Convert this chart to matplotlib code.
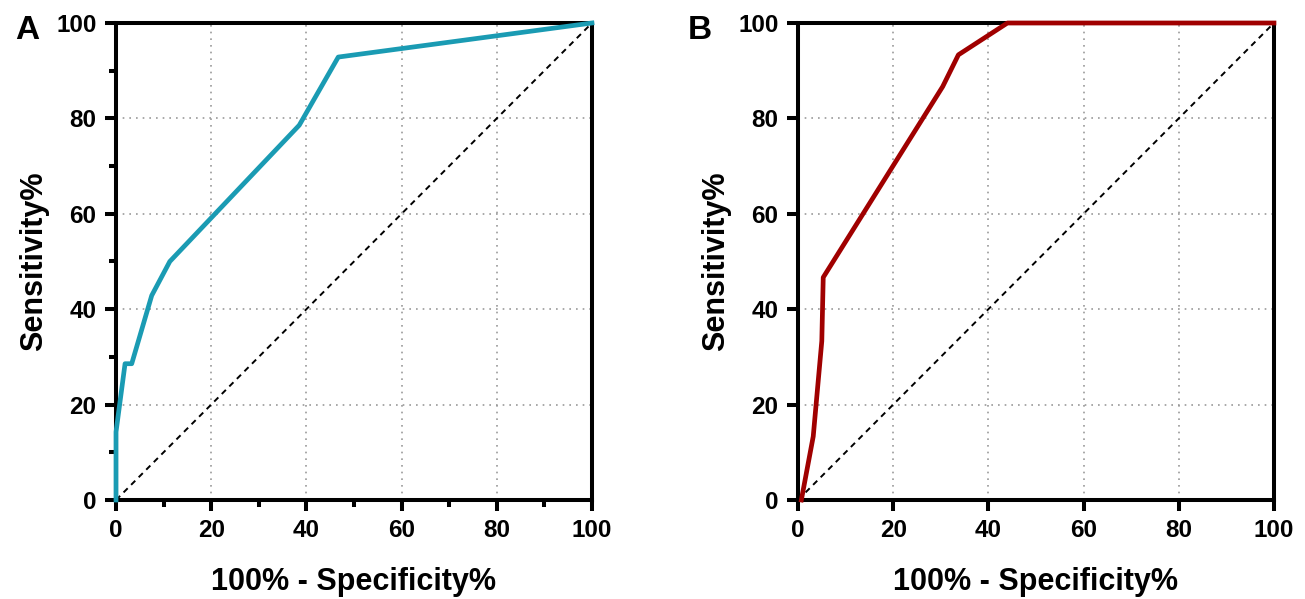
import matplotlib
matplotlib.use("Agg")
from matplotlib import pyplot as plt
from matplotlib.ticker import MultipleLocator

plt.rcParams['font.family'] = ['Liberation Sans', 'DejaVu Sans']
plt.rcParams['font.weight'] = 'bold'

# ROC curve A (100% - specificity, sensitivity)
fpr_a = [0, 0, 1.9, 3.3, 7.5, 11.3, 38.5, 46.7, 100]
sens_a = [0, 14.29, 28.57, 28.57, 42.86, 50.0, 78.57, 92.86, 100]

# ROC curve B
fpr_b = [0.7, 3.2, 5.0, 5.3, 30.4, 33.7, 44.0, 100]
sens_b = [0, 13.33, 33.33, 46.67, 86.67, 93.33, 100, 100]

ticks = [0, 20, 40, 60, 80, 100]

fig = plt.figure(figsize=(13.05, 5.99), dpi=100)
ax_a = fig.add_axes([0.0889, 0.1653, 0.3647, 0.7963])
ax_b = fig.add_axes([0.6115, 0.1653, 0.3647, 0.7963])


def style_axes(ax, minor):
    ax.set_xlim(0, 100)
    ax.set_ylim(0, 100)
    ax.set_xticks(ticks)
    ax.set_yticks(ticks)
    if minor:
        ax.xaxis.set_minor_locator(MultipleLocator(10))
        ax.yaxis.set_minor_locator(MultipleLocator(10))
    ax.grid(True, which='major', linestyle=(0, (1, 3)), color='#999999', linewidth=1.2)
    for sp in ax.spines.values():
        sp.set_linewidth(2.9)
    ax.tick_params(which='major', direction='out', length=8, width=2.9,
                   labelsize=17.5, pad=6)
    ax.tick_params(which='minor', direction='out', length=5, width=2.9)
    for lab in ax.get_xticklabels() + ax.get_yticklabels():
        lab.set_fontweight('bold')
    ax.set_xlabel('100% - Specificity%', fontsize=22, fontweight='bold', labelpad=18)
    ax.set_ylabel('Sensitivity%', fontsize=22, fontweight='bold', labelpad=5)
    ax.plot([0, 100], [0, 100], linestyle=(0, (3, 2.5)), color='black',
            linewidth=1.4, zorder=3, clip_on=False)


style_axes(ax_a, True)
style_axes(ax_b, False)

ax_a.plot(fpr_a, sens_a, color='#1A9BB3', linewidth=3.4, zorder=4, clip_on=False)
ax_b.plot(fpr_b, sens_b, color='#A00000', linewidth=3.4, zorder=4, clip_on=False)

fig.text(0.012, 0.935, 'A', fontsize=24, fontweight='bold')
fig.text(0.527, 0.935, 'B', fontsize=24, fontweight='bold')

fig.savefig('out.png', dpi=100)
